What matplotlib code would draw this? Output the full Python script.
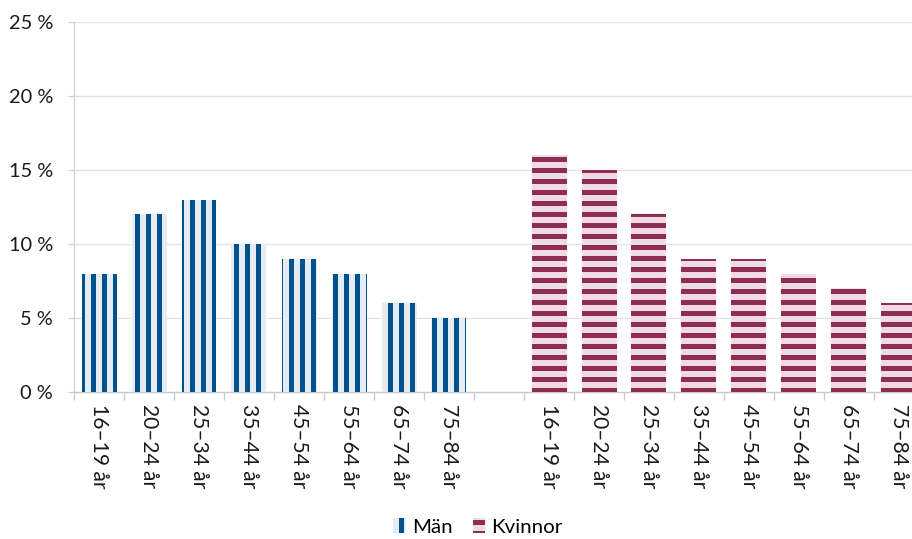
import matplotlib.pyplot as plt
from matplotlib.patches import Patch
from matplotlib.ticker import FuncFormatter, MultipleLocator

# Data
age_groups = ['16–19 år', '20–24 år', '25–34 år', '35–44 år',
              '45–54 år', '55–64 år', '65–74 år', '75–84 år']
men = [8, 12, 13, 10, 9, 8, 6, 5]
women = [16, 15, 12, 9, 9, 8, 7, 6]

DPI = 132
W, H = 912, 539
pt = 72 / DPI  # px -> pt

plt.rcParams['font.family'] = ['Lato', 'DejaVu Sans']
plt.rcParams['hatch.linewidth'] = 5 * pt

blue_dark, blue_light = '#00528F', '#E6ECF4'
red_dark, red_light = '#8E2C53', '#F0DAE4'

fig = plt.figure(figsize=(W / DPI, H / DPI), dpi=DPI)
ax = fig.add_axes([74 / W, (H - 392) / H, 850 / W, 370 / H])

men_x = list(range(len(men)))
women_x = [len(men) + 1 + i for i in range(len(women))]

ax.bar(men_x, men, width=0.7, color=blue_light, edgecolor=blue_dark,
       hatch='||', linewidth=0, zorder=3)
ax.bar(women_x, women, width=0.7, color=red_light, edgecolor=red_dark,
       hatch='--', linewidth=0, zorder=3)

ax.set_xlim(-0.5, len(men) + len(women) + 0.5)
ax.set_ylim(0, 25)

# y axis
ax.yaxis.set_major_locator(MultipleLocator(5))
ax.yaxis.set_major_formatter(FuncFormatter(lambda v, p: f'{v:.0f} %'))
ax.grid(axis='y', color='#E3E3E3', linewidth=1.3 * pt, zorder=0)
ax.tick_params(axis='y', length=6 * pt, color='#D0D0D0', width=1.3 * pt,
               labelsize=20 * pt, labelcolor='#1a1a1a', pad=15 * pt)

# x axis: ticks at category boundaries, labels at centres
all_x = men_x + women_x
ax.set_xticks([i - 0.5 for i in range(len(men) + len(women) + 2)])
ax.set_xticklabels([])
ax.set_xticks(all_x, minor=True)
ax.set_xticklabels(age_groups + age_groups, minor=True, rotation=270,
                   va='top', ha='center')
ax.tick_params(axis='x', which='major', length=8 * pt, color='#C8C8C8',
               width=1.3 * pt)
ax.tick_params(axis='x', which='minor', length=0, labelsize=21 * pt,
               labelcolor='#1a1a1a', pad=12 * pt)

for s in ['top', 'right']:
    ax.spines[s].set_visible(False)
ax.spines['left'].set_color('#D0D0D0')
ax.spines['bottom'].set_color('#C8C8C8')
ax.spines['left'].set_linewidth(1.3 * pt)
ax.spines['bottom'].set_linewidth(1.3 * pt)

handles = [Patch(facecolor=blue_light, edgecolor=blue_dark, hatch='||', linewidth=0, label='Män'),
           Patch(facecolor=red_light, edgecolor=red_dark, hatch='--', linewidth=0, label='Kvinnor')]
fig.legend(handles=handles, loc='center', bbox_to_anchor=(478 / W, 1 - 527 / H),
           ncol=2, frameon=False, fontsize=20.5 * pt, handlelength=0.6,
           handleheight=0.7, handletextpad=0.3, columnspacing=1.0)

fig.savefig('out.png', dpi=DPI)
